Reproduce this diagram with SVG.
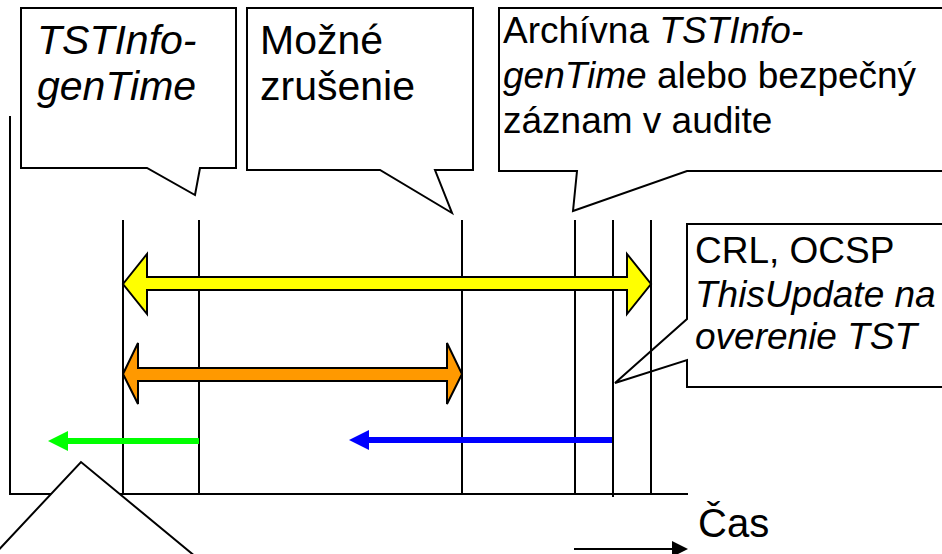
<svg xmlns="http://www.w3.org/2000/svg" width="942" height="554" viewBox="0 0 942 554">
<style>
.box{fill:#fff;stroke:#000;stroke-width:2;stroke-linejoin:miter}
.ln{stroke:#000;stroke-width:2;fill:none}
.t{font-family:"Liberation Sans",Arial,sans-serif;fill:#000}
.i{font-style:italic}
.dbl{stroke:#000;stroke-width:2;stroke-linejoin:miter}
</style>
<rect width="942" height="554" fill="#fff"/>
<g id="callout-gentime">
<path class="box" d="M21,8 H236 V168 H200 L195,195 L147,168 H21 Z"/>
<text class="t i" font-size="41" x="37" y="54">TSTInfo-</text>
<text class="t i" font-size="41" x="37" y="100">genTime</text>
</g>
<g id="callout-revocation">
<path class="box" d="M247,8 H473 V170 H435 L452,213 L380,170 H247 Z"/>
<text class="t" font-size="41" x="260" y="54">Možné</text>
<text class="t" font-size="41" x="260" y="100">zrušenie</text>
</g>
<g id="callout-archive">
<path class="box" d="M499,8 H950 V171 H687 L573,211 L577,171 H499 Z"/>
<text class="t" font-size="37" x="503" y="43">Archívna <tspan class="i">TSTInfo-</tspan></text>
<text class="t" font-size="37" x="503" y="88"><tspan class="i">genTime</tspan> alebo bezpečný</text>
<text class="t" font-size="37" x="503" y="133">záznam v audite</text>
</g>
<g id="callout-crl">
<path class="box" d="M687,224 H950 V387 H687 V360 L615,383 L687,319 Z"/>
<text class="t" font-size="37" x="695" y="263">CRL, OCSP</text>
<text class="t i" font-size="37" x="695" y="307">ThisUpdate na</text>
<text class="t i" font-size="37" x="695" y="349">overenie TST</text>
</g>
<g id="connectors">
<line class="ln" x1="10" y1="116" x2="10" y2="494"/>
<line class="ln" x1="123" y1="220" x2="123" y2="494"/>
<line class="ln" x1="199" y1="220" x2="199" y2="494"/>
<line class="ln" x1="462" y1="220" x2="462" y2="494"/>
<line class="ln" x1="575" y1="220" x2="575" y2="494"/>
<line class="ln" x1="613" y1="220" x2="613" y2="497"/>
<line class="ln" x1="651" y1="220" x2="651" y2="494"/>
<line class="ln" x1="9" y1="494" x2="688" y2="494"/>
<path class="dbl" fill="#FFFF00" d="M123,284 L147,254 V277 H627 V254 L651,284 L627,314 V290 H147 V314 Z"/>
<path class="dbl" fill="#FF9900" d="M123,374 L138,343 V368 H447 V343 L462,374 L447,404 V381 H138 V404 Z"/>
<line x1="199" y1="441" x2="66" y2="441" stroke="#00FF00" stroke-width="6"/>
<path fill="#00FF00" d="M48,441 L68,431 V451 Z"/>
<line x1="612" y1="440" x2="367" y2="440" stroke="#0000FF" stroke-width="6"/>
<path fill="#0000FF" d="M349,440 L369,430 V450 Z"/>
<line class="ln" x1="574" y1="549" x2="674" y2="549"/>
<path fill="#000" d="M688,549 L672,541 V557 Z"/>
</g>
<g id="time-label">
<text class="t" font-size="40" x="698" y="537">Čas</text>
</g>
<g id="callout-bottom">
<path class="box" d="M-8,557 L81,462 L196,557 Z"/>
</g>
</svg>
